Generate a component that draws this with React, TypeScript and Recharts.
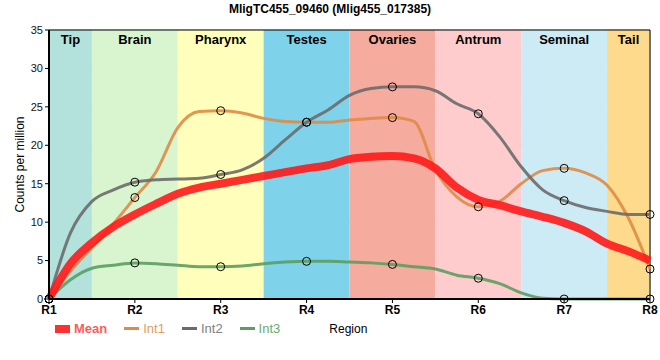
import { CartesianGrid, Line, LineChart, ReferenceArea, ReferenceLine, XAxis, YAxis } from "recharts";

// readings at every quarter of a region step, so the plateaus keep their shape
const xs = [
  1, 1.25, 1.5, 1.75, 2, 2.25, 2.5, 2.75, 3, 3.25, 3.5, 3.75, 4, 4.25, 4.5,
  4.75, 5, 5.25, 5.5, 5.75, 6, 6.25, 6.5, 6.75, 7, 7.25, 7.5, 7.75, 8,
];
const meanVals = [
  0, 4.6, 7.3, 9.4, 11.0, 12.4, 13.7, 14.5, 15.0, 15.5, 16.0, 16.5, 17.0, 17.4, 18.2,
  18.5, 18.6, 18.3, 17.0, 14.5, 12.9, 12.2, 11.4, 10.7, 9.9, 8.8, 7.2, 6.2, 5.0,
];
const int1Vals = [
  0, 3.6, 6.7, 9.8, 13.2, 16.6, 22.3, 24.4, 24.5, 24.2, 23.5, 23.1, 23.0, 23.0, 23.3,
  23.5, 23.6, 23.1, 16.8, 13.3, 12.0, 12.7, 15.0, 16.7, 17.0, 16.4, 14.8, 10.5, 3.9,
];
const int2Vals = [
  0, 8.6, 12.7, 14.2, 15.2, 15.5, 15.6, 15.7, 16.2, 16.8, 18.3, 20.7, 23.0, 24.6, 26.5,
  27.4, 27.6, 27.6, 27.1, 25.4, 24.1, 21.1, 17.2, 14.2, 12.8, 11.9, 11.4, 11.0, 11.0,
];
const int3Vals = [
  0, 2.5, 4.0, 4.4, 4.7, 4.6, 4.4, 4.2, 4.2, 4.3, 4.6, 4.8, 4.9, 4.9, 4.8,
  4.7, 4.5, 4.2, 3.9, 3.1, 2.7, 2.0, 0.8, 0.1, 0, 0, 0, 0, 0,
];

const regionTicks = [1, 2, 3, 4, 5, 6, 7, 8];
const regionLabels = ["R1", "R2", "R3", "R4", "R5", "R6", "R7", "R8"];
const bandNames = ["Tip", "Brain", "Pharynx", "Testes", "Ovaries", "Antrum", "Seminal", "Tail"];
const bandColors = ["#b3e2dd", "#d9f5d0", "#ffffbb", "#7ed3eb", "#f5ab9e", "#ffccce", "#cdebf5", "#feda8c"];
const yTicks = [0, 5, 10, 15, 20, 25, 30, 35];

const rows = xs.map((x, i) => ({
  x,
  mean: meanVals[i],
  int1: int1Vals[i],
  int2: int2Vals[i],
  int3: int3Vals[i],
}));

const font = "'Liberation Sans', Arial, sans-serif";

// markers only on the region positions
const dot = (props: any) => {
  const { cx, cy, payload, index } = props;
  if (!Number.isInteger(payload.x)) return <g key={index} />;
  return <circle key={index} cx={cx} cy={cy} r={4} fill="none" stroke="#000" strokeWidth={1} />;
};

const YLabel = (props: any) => {
  const vb = props.viewBox;
  const cy = vb.y + vb.height / 2;
  return (
    <text x={24} y={cy} transform={`rotate(-90 24 ${cy})`} textAnchor="middle" fontSize={12} fill="#000" fontFamily={font}>
      Counts per million
    </text>
  );
};

const legend = [
  { name: "Mean", color: "#ff3030", text: "#ff5a5a", thick: true },
  { name: "Int1", color: "#df8b46", text: "#e39a62", thick: false },
  { name: "Int2", color: "#6b6b6b", text: "#808080", thick: false },
  { name: "Int3", color: "#5a9e62", text: "#6aaa72", thick: false },
];

export default function App() {
  return (
    <div style={{ position: "absolute", left: 0, top: 0, width: 660, height: 360, background: "#fff", fontFamily: font }}>
      <div style={{ position: "absolute", top: 2, width: 660, textAlign: "center", fontWeight: "bold", fontSize: 12 }}>
        MligTC455_09460 (Mlig455_017385)
      </div>
      <LineChart width={660} height={360} data={rows} margin={{ top: 30, right: 10, bottom: 41, left: 0 }}>
        {bandNames.map((name, i) => (
          <ReferenceArea
            key={name}
            x1={Math.max(1, i + 0.5)}
            x2={Math.min(8, i + 1.5)}
            y1={0}
            y2={35}
            fill={bandColors[i]}
            fillOpacity={1}
            stroke="none"
            label={{ value: name, position: "insideTop", fill: "#000", fontWeight: "bold", fontSize: 13, fontFamily: font }}
          />
        ))}
        <CartesianGrid stroke="#c8c8c8" />
        <XAxis
          type="number"
          dataKey="x"
          domain={[1, 8]}
          ticks={regionTicks}
          tickFormatter={(v) => regionLabels[v - 1]}
          axisLine={{ stroke: "#000", strokeWidth: 2 }}
          tickLine={{ stroke: "#000" }}
          tickSize={4}
          tick={{ fill: "#000", fontSize: 12, fontWeight: "bold", fontFamily: font }}
          height={20}
        />
        <YAxis
          domain={[0, 35]}
          ticks={yTicks}
          width={49}
          axisLine={{ stroke: "#000", strokeWidth: 2 }}
          tickLine={{ stroke: "#000" }}
          tickSize={4}
          tick={{ fill: "#111", fontSize: 11, fontFamily: font }}
          label={<YLabel />}
        />
        <ReferenceLine y={35} stroke="#000" />
        <ReferenceLine x={8} stroke="#000" />
        <Line type="monotone" dataKey="int1" stroke="#df8b46" strokeOpacity={0.9} strokeWidth={3} dot={dot} activeDot={false} isAnimationActive={false} />
        <Line type="monotone" dataKey="int2" stroke="#6b6b6b" strokeOpacity={0.9} strokeWidth={3} dot={dot} activeDot={false} isAnimationActive={false} />
        <Line type="monotone" dataKey="int3" stroke="#5a9e62" strokeOpacity={0.9} strokeWidth={3} dot={dot} activeDot={false} isAnimationActive={false} />
        <Line type="monotone" dataKey="mean" stroke="#ff1a1a" strokeOpacity={0.9} strokeWidth={8} dot={false} activeDot={false} isAnimationActive={false} />
      </LineChart>
      <div style={{ position: "absolute", top: 321, left: 55, display: "flex", alignItems: "center", fontSize: 13 }}>
        {legend.map((l) => (
          <div key={l.name} style={{ display: "flex", alignItems: "center", marginRight: 17 }}>
            <div style={{ width: 15, height: l.thick ? 8 : 3, background: l.color, marginRight: 4 }} />
            <span style={{ color: l.text, fontWeight: l.thick ? "bold" : "normal" }}>{l.name}</span>
          </div>
        ))}
        <span style={{ marginLeft: 32, color: "#000", fontSize: 12 }}>Region</span>
      </div>
    </div>
  );
}
